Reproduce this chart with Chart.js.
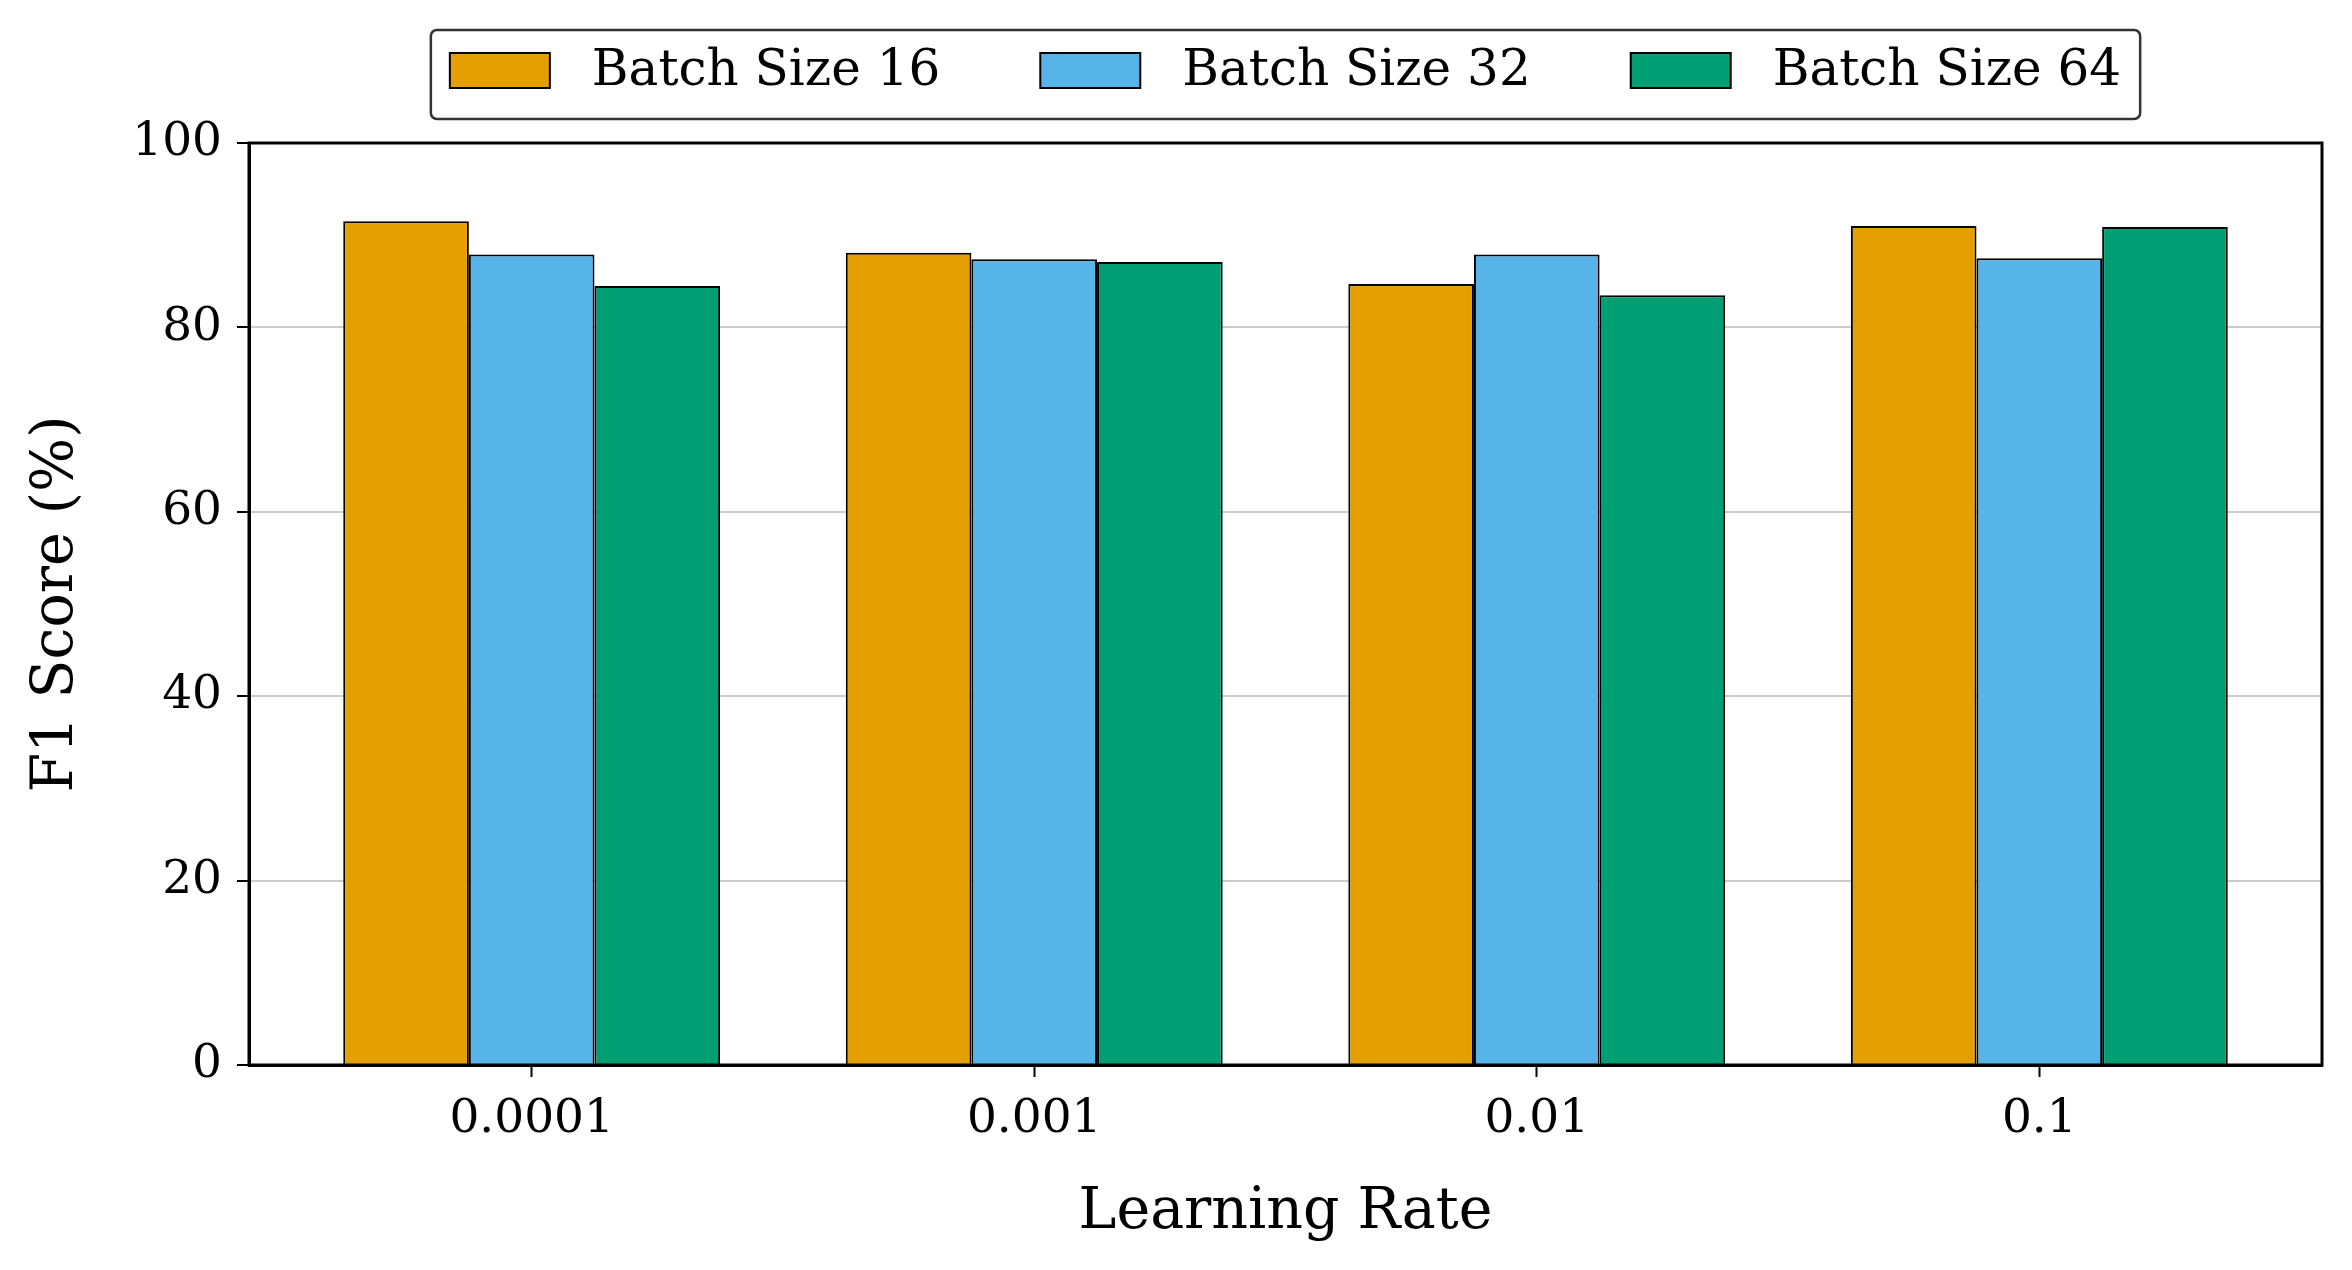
<!DOCTYPE html>
<html>
<head>
<meta charset="utf-8">
<script src="https://cdn.jsdelivr.net/npm/chart.js@4.4.1/dist/chart.umd.min.js"></script>
<style>
  html, body { margin: 0; padding: 0; background: #fff; }
  #wrap { width: 2352px; height: 1270px; }
</style>
</head>
<body>
<div id="wrap"><canvas id="f1Chart" width="2352" height="1270"></canvas></div>
<script>
const learningRates = ['0.0001', '0.001', '0.01', '0.1'];
const batch16 = [91.5, 88.1, 84.7, 91.0];
const batch32 = [87.9, 87.4, 87.9, 87.5];
const batch64 = [84.5, 87.1, 83.5, 90.9];
const seriesLabels = ['Batch Size 16', 'Batch Size 32', 'Batch Size 64'];
const yTicks = [0, 20, 40, 60, 80, 100];

const colors = ['#E69F00', '#56B4E9', '#009E73'];
const serif = "'DejaVu Serif', 'Liberation Serif', serif";

const toPoints = (arr) => arr.map((v, i) => ({ x: i, y: v }));

// frame round the plot + legend box like matplotlib
const framePlugin = {
  id: 'frame',
  afterDraw(chart) {
    const { ctx, chartArea: a } = chart;
    ctx.save();
    ctx.strokeStyle = '#000';
    ctx.lineWidth = 3;
    ctx.strokeRect(a.left, a.top, a.right - a.left, a.bottom - a.top);

    // legend
    ctx.font = '50px ' + serif;
    const sw = 100, sh = 35, textGap = 42, colGap = 100;
    const widths = chart.data.datasets.map(d => ctx.measureText(d.label).width);
    const total = widths.reduce((s, w) => s + w, 0) + 3 * (sw + textGap) + 2 * colGap;
    const cx = (a.left + a.right) / 2;
    let x = cx - total / 2;
    const boxL = x - 19, boxR = x + total + 19, boxT = 30, boxB = 119;
    ctx.lineWidth = 2.5;
    ctx.strokeStyle = '#333';
    ctx.beginPath();
    ctx.roundRect(boxL, boxT, boxR - boxL, boxB - boxT, 6);
    ctx.fillStyle = '#fff';
    ctx.fill();
    ctx.stroke();
    ctx.textBaseline = 'middle';
    ctx.textAlign = 'left';
    chart.data.datasets.forEach((d, i) => {
      ctx.fillStyle = d.backgroundColor;
      ctx.fillRect(x, 53, sw, sh);
      ctx.lineWidth = 2;
      ctx.strokeStyle = '#000';
      ctx.strokeRect(x, 53, sw, sh);
      ctx.fillStyle = '#000';
      ctx.fillText(d.label, x + sw + textGap, 72);
      x += sw + textGap + widths[i] + colGap;
    });
    ctx.restore();
  }
};

new Chart(document.getElementById('f1Chart'), {
  type: 'bar',
  data: {
    datasets: [batch16, batch32, batch64].map((arr, i) => ({
      label: seriesLabels[i],
      data: toPoints(arr),
      backgroundColor: colors[i],
      borderColor: '#000',
      borderWidth: 2,
      categoryPercentage: 0.75,
      barPercentage: 1.0,
    })),
  },
  options: {
    responsive: false,
    animation: false,
    devicePixelRatio: 1,
    layout: { padding: { top: 143, right: 30, bottom: 0, left: 0 } },
    plugins: { legend: { display: false }, tooltip: { enabled: false } },
    scales: {
      x: {
        type: 'linear',
        min: -0.5625,
        max: 3.5625,
        offset: false,
        afterFit: (s) => { s.height = 205; },
        afterBuildTicks: (s) => { s.ticks = learningRates.map((_, i) => ({ value: i })); },
        grid: { display: true, drawOnChartArea: false, offset: false, tickLength: 12, tickColor: '#000', tickWidth: 2 },
        border: { display: true, color: '#000', width: 3 },
        ticks: {
          padding: 15,
          color: '#000',
          font: { family: serif, size: 47 },
          callback: (v) => learningRates[v] ?? '',
        },
        title: {
          display: true,
          text: 'Learning Rate',
          color: '#000',
          font: { family: serif, size: 57 },
          padding: { top: 0, bottom: 23 },
        },
      },
      y: {
        min: 0,
        max: 100,
        afterFit: (s) => { s.width = 249; },
        afterBuildTicks: (s) => { s.ticks = yTicks.map(v => ({ value: v })); },
        grid: {
          color: (c) => (c.tick && (c.tick.value === 0 || c.tick.value === 100)) ? 'rgba(0,0,0,0)' : '#cccccc',
          lineWidth: 2,
          tickLength: 12,
          tickColor: '#000',
          tickWidth: 2,
        },
        border: { display: true, color: '#000', width: 3 },
        ticks: { padding: 15, color: '#000', font: { family: serif, size: 47 } },
        title: {
          display: true,
          text: 'F1 Score (%)',
          color: '#000',
          font: { family: serif, size: 57 },
          padding: { top: 23, bottom: 0 },
        },
      },
    },
  },
  plugins: [framePlugin],
});
</script>
</body>
</html>
